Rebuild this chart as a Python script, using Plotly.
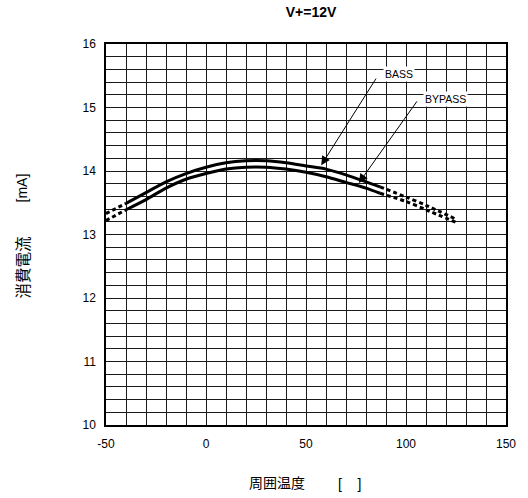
import plotly.graph_objects as go

# Supply current vs ambient temperature, V+ = 12 V
temp = [-50, -40, -30, -20, -10, 0, 10, 20, 30, 40, 50, 60, 70, 80, 87, 100, 110, 125]
bass = [13.33, 13.49, 13.66, 13.83, 13.96, 14.06, 14.13, 14.16, 14.16, 14.13,
        14.08, 14.03, 13.94, 13.83, 13.75, 13.59, 13.46, 13.24]
bypass = [13.22, 13.39, 13.55, 13.73, 13.87, 13.96, 14.03, 14.06, 14.06, 14.03,
          13.98, 13.91, 13.82, 13.73, 13.65, 13.52, 13.39, 13.19]

# guaranteed range drawn solid, extrapolated ends drawn dashed
SOLID_FROM, SOLID_TO = 1, 14

x_ticks = [-50, 0, 50, 100, 150]
y_ticks = [10, 11, 12, 13, 14, 15, 16]

W, H = 528, 498
M = dict(l=106, r=15, t=44, b=73)
PW, PH = W - M["l"] - M["r"], H - M["t"] - M["b"]


def px(x, y):
    """pixel position -> paper coordinates"""
    return (x - M["l"]) / PW, (H - M["b"] - y) / PH


TXT = "Liberation Sans, Arial, sans-serif"
CJK = "Noto Sans CJK JP, sans-serif"

fig = go.Figure()

for series in (bass, bypass):
    segs = [
        (temp[:SOLID_FROM + 1], series[:SOLID_FROM + 1], "4px,3px"),
        (temp[SOLID_FROM:SOLID_TO + 1], series[SOLID_FROM:SOLID_TO + 1], "solid"),
        (temp[SOLID_TO:], series[SOLID_TO:], "4px,3px"),
    ]
    for xs, ys, dash in segs:
        fig.add_trace(go.Scatter(
            x=xs, y=ys, mode="lines",
            line=dict(color="black", width=3, dash=dash, shape="spline", smoothing=0.8),
            showlegend=False, hoverinfo="skip",
        ))

grid = "#1a1a1a"
fig.update_xaxes(
    range=[-50, 150], tickvals=x_ticks, ticktext=[str(v) for v in x_ticks],
    showgrid=True, gridcolor=grid, gridwidth=1,
    minor=dict(dtick=10, showgrid=True, gridcolor=grid, gridwidth=1),
    showline=True, mirror=True, linecolor="black", linewidth=1.5,
    zeroline=False, ticks="", ticklabelstandoff=7,
    tickfont=dict(family=TXT, size=12, color="black"),
)
fig.update_yaxes(
    range=[10, 16], tickvals=y_ticks, ticktext=[str(v) for v in y_ticks],
    showgrid=True, gridcolor=grid, gridwidth=1,
    minor=dict(dtick=0.2, showgrid=True, gridcolor=grid, gridwidth=1),
    showline=True, mirror=True, linecolor="black", linewidth=1.5,
    zeroline=False, ticks="", ticklabelstandoff=6,
    tickfont=dict(family=TXT, size=12, color="black"),
)

annotations = []

# callouts with arrows pointing at each curve
for label, tip, tail, lab_pos in (
    ("BASS", (57.6, 14.09), (85.5, 15.48), (96.5, 15.52)),
    ("BYPASS", (76.4, 13.81), (106.0, 15.12), (119.5, 15.14)),
):
    annotations.append(dict(
        x=tip[0], y=tip[1], ax=tail[0], ay=tail[1], xref="x", yref="y",
        axref="x", ayref="y", text="", showarrow=True,
        arrowhead=2, arrowsize=1.8, arrowwidth=1, arrowcolor="black", standoff=0,
    ))
    annotations.append(dict(
        x=lab_pos[0], y=lab_pos[1], xref="x", yref="y", text=label, showarrow=False,
        font=dict(family=TXT, size=10.5, color="black"),
        bgcolor="white", borderpad=1,
    ))

# axis titles
xa, ya = px(279.5, 482.5)
annotations.append(dict(x=xa, y=ya, xref="paper", yref="paper", text="周囲温度",
                         showarrow=False, xanchor="center", yanchor="middle",
                         font=dict(family=CJK, size=14, color="black")))
xa, ya = px(354, 484)
annotations.append(dict(x=xa, y=ya, xref="paper", yref="paper", text="[    ]",
                         showarrow=False, xanchor="center", yanchor="middle",
                         font=dict(family=TXT, size=14, color="black")))
xa, ya = px(21, 267)
annotations.append(dict(x=xa, y=ya, xref="paper", yref="paper", text="消費電流",
                         showarrow=False, textangle=-90, xanchor="center", yanchor="middle",
                         font=dict(family=CJK, size=15.5, color="black")))
xa, ya = px(21.5, 187.5)
annotations.append(dict(x=xa, y=ya, xref="paper", yref="paper", text="[mA]",
                         showarrow=False, textangle=-90, xanchor="center", yanchor="middle",
                         font=dict(family=TXT, size=14, color="black")))

fig.update_layout(
    width=W, height=H, margin=M,
    paper_bgcolor="white", plot_bgcolor="white",
    title=dict(text="<b>V+=12V</b>", xref="container", yref="container",
               x=311 / W, y=1 - 12.5 / H, xanchor="center", yanchor="middle",
               font=dict(family=TXT, size=14, color="black")),
    annotations=annotations,
    showlegend=False,
)

fig.write_html("out.html")
